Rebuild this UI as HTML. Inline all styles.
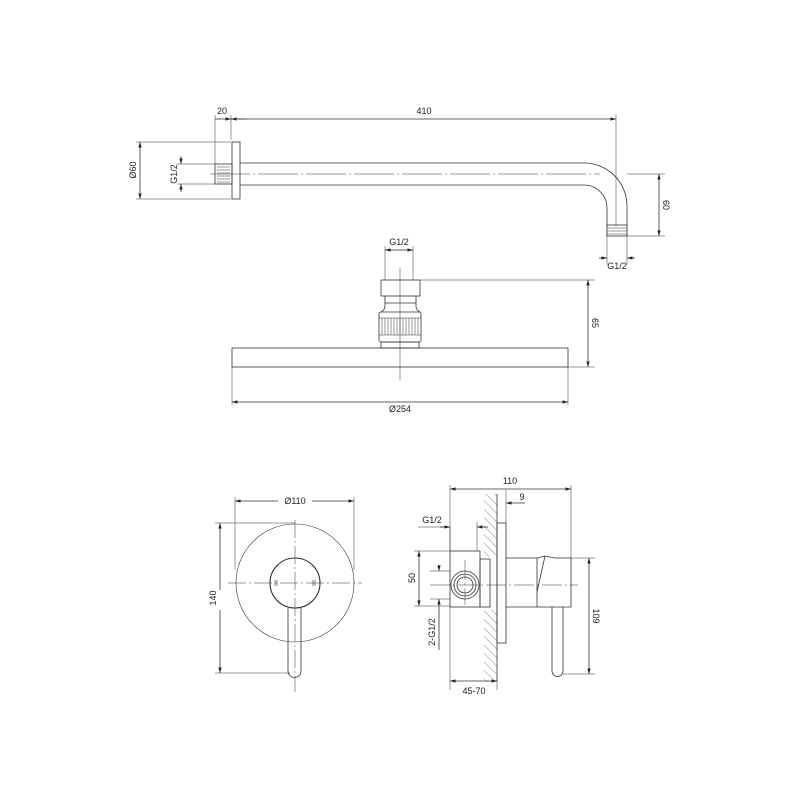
<!DOCTYPE html>
<html><head><meta charset="utf-8"><style>
html,body{margin:0;padding:0;background:#fff;}
svg{display:block;}
text{font-family:"Liberation Sans",sans-serif;font-size:9px;fill:#222;}
</style></head><body>
<svg width="800" height="800" viewBox="0 0 800 800" xmlns="http://www.w3.org/2000/svg">
<defs>
<marker id="a" viewBox="0 0 10 10" refX="10" refY="5" markerWidth="7" markerHeight="7" orient="auto-start-reverse"><path d="M0,2 L10,5 L0,8 z" fill="#222"/></marker>
<pattern id="h" width="6" height="6" patternUnits="userSpaceOnUse" patternTransform="rotate(-45)"><line x1="0" y1="0" x2="0" y2="6" stroke="#555" stroke-width="0.7"/></pattern>
</defs>
<g fill="none" stroke="#333" stroke-width="0.8">
<!-- TOP ARM -->
<rect x="232" y="142" width="8" height="57"/>
<rect x="215" y="164" width="17" height="20"/>
<path d="M217,167h13M217,170h13M217,173h13M217,176h13M217,179h13M217,182h13" stroke-width="0.5"/>
<path d="M240,163 H584 A43,43 0 0 1 627,206 V236"/>
<path d="M240,185 H584 A23,23 0 0 1 607,208 V236"/>
<rect x="607" y="225" width="20" height="11"/>
<path d="M608,228h18M608,231h18M608,234h18" stroke-width="0.5"/>
<path d="M210,174 H600" stroke-dasharray="40,3,2,3" stroke-width="0.5"/>
<!-- dims -->
<path d="M215,115 V164 M231,115 V140 M616,114 V226" stroke-width="0.5"/>
<line x1="215" y1="119" x2="231" y2="119" marker-end="url(#a)"/>
<line x1="247" y1="119" x2="231" y2="119" marker-end="url(#a)"/>
<line x1="231" y1="119" x2="616" y2="119" marker-end="url(#a)"/>
<path d="M136,142 H231 M136,199 H231 M177,164 H215 M177,184 H215" stroke-width="0.5"/>
<line x1="140" y1="170" x2="140" y2="142" marker-end="url(#a)"/>
<line x1="140" y1="170" x2="140" y2="199" marker-end="url(#a)"/>
<line x1="181" y1="156" x2="181" y2="164" marker-end="url(#a)"/>
<line x1="181" y1="192" x2="181" y2="184" marker-end="url(#a)"/>
<path d="M627,174 H665 M627,236 H665 M607,236 V265 M627,236 V265" stroke-width="0.5"/>
<line x1="659" y1="205" x2="659" y2="174" marker-end="url(#a)"/>
<line x1="659" y1="205" x2="659" y2="236" marker-end="url(#a)"/>
<line x1="599" y1="258" x2="607" y2="258" marker-end="url(#a)"/>
<line x1="635" y1="258" x2="627" y2="258" marker-end="url(#a)"/>

<!-- SHOWER HEAD -->
<path d="M385,246 V280 M413,246 V280" stroke-width="0.5"/>
<line x1="399" y1="250" x2="385" y2="250" marker-end="url(#a)"/>
<line x1="399" y1="250" x2="413" y2="250" marker-end="url(#a)"/>
<rect x="381" y="280" width="39" height="16"/>
<path d="M385,296 V306 Q385,310 381,312 M416,296 V306 Q416,310 420,312 M385,303 H416"/>
<rect x="379" y="312" width="42" height="30" rx="2"/>
<path d="M379,318 H421 M379,335 H421" stroke-width="0.6"/>
<path d="M382,318v17M385,318v17M388,318v17M391,318v17M394,318v17M397,318v17M400,318v17M403,318v17M406,318v17M409,318v17M412,318v17M415,318v17M418,318v17" stroke-width="0.5"/>
<rect x="381" y="342" width="38" height="6"/>
<rect x="232" y="348" width="336" height="19"/>
<path d="M400,268 V380" stroke-width="0.5"/>
<path d="M420,280 H595 M568,367 H595 M232,367 V405 M568,367 V405" stroke-width="0.5"/>
<line x1="588" y1="323" x2="588" y2="280" marker-end="url(#a)"/>
<line x1="588" y1="323" x2="588" y2="367" marker-end="url(#a)"/>
<line x1="400" y1="402" x2="232" y2="402" marker-end="url(#a)"/>
<line x1="400" y1="402" x2="568" y2="402" marker-end="url(#a)"/>

<!-- BOTTOM LEFT -->
<circle cx="295" cy="583" r="59" stroke-width="0.6"/>
<circle cx="295" cy="583" r="25" stroke-width="1.1"/>
<path d="M288,608 V671 A6.5,6.5 0 0 0 301,671 V608"/>
<path d="M228,583 H362 M295,520 V692" stroke-dasharray="18,3,2,3" stroke-width="0.5"/>
<path d="M275,580v6M277,580v6M313,580v6M315,580v6" stroke-width="0.6"/>
<path d="M235,497 V570 M354,497 V570 M215,523 H295 M215,673 H290" stroke-width="0.5"/>
<line x1="278" y1="501" x2="235" y2="501" marker-end="url(#a)"/>
<line x1="312" y1="501" x2="354" y2="501" marker-end="url(#a)"/>
<line x1="220" y1="590" x2="220" y2="523" marker-end="url(#a)"/>
<line x1="220" y1="610" x2="220" y2="673" marker-end="url(#a)"/>

<!-- BOTTOM RIGHT -->
<rect x="484" y="494" width="13" height="63" fill="url(#h)" stroke="none"/>
<rect x="484" y="610" width="13" height="72" fill="url(#h)" stroke="none"/>
<path d="M497,494 V682"/>
<rect x="497" y="523" width="9" height="120"/>
<rect x="450" y="551" width="30" height="56"/>
<rect x="480" y="559" width="10" height="48"/>
<circle cx="465" cy="585" r="14"/>
<circle cx="465" cy="585" r="11"/>
<circle cx="465" cy="585" r="8"/>
<path d="M506,558 H537 V607 H506 M537,558 L545,556 L555,558 H571 V607 H537 M545,556 L537,592"/>
<path d="M552,607 V671 A5.5,5.5 0 0 0 563,671 V607"/>
<path d="M430,585 H578 M465,560 V605" stroke-dasharray="20,3,2,3" stroke-width="0.5"/>
<path d="M450,485 V551 M571,485 V558 M506,490 V523 M450,607 V690 M497,682 V690" stroke-width="0.5"/>
<line x1="510" y1="489" x2="450" y2="489" marker-end="url(#a)"/>
<line x1="510" y1="489" x2="571" y2="489" marker-end="url(#a)"/>
<line x1="525" y1="503" x2="506" y2="503" marker-end="url(#a)"/>
<path d="M418,527 H450 M450,527 V551 M477,522 V551" stroke-width="0.5"/>
<line x1="440" y1="527" x2="450" y2="527" marker-end="url(#a)"/>
<line x1="488" y1="527" x2="477" y2="527" marker-end="url(#a)"/>
<path d="M414,551 H450 M414,606 H450 M430,571 H450 M430,599 H450" stroke-width="0.5"/>
<line x1="419" y1="578" x2="419" y2="551" marker-end="url(#a)"/>
<line x1="419" y1="578" x2="419" y2="606" marker-end="url(#a)"/>
<line x1="439" y1="565" x2="439" y2="571" marker-end="url(#a)"/>
<line x1="439" y1="650" x2="439" y2="599" marker-end="url(#a)"/>
<line x1="474" y1="681" x2="450" y2="681" marker-end="url(#a)"/>
<line x1="474" y1="681" x2="497" y2="681" marker-end="url(#a)"/>
<path d="M571,558 H595 M563,674 H595" stroke-width="0.5"/>
<line x1="589" y1="615" x2="589" y2="558" marker-end="url(#a)"/>
<line x1="589" y1="615" x2="589" y2="674" marker-end="url(#a)"/>
</g>
<!-- TEXT -->
<text x="222" y="114" text-anchor="middle">20</text>
<text x="424" y="114" text-anchor="middle">410</text>
<text transform="translate(136,170) rotate(-90)" text-anchor="middle">Ø60</text>
<text transform="translate(177,174) rotate(-90)" text-anchor="middle">G1/2</text>
<text transform="translate(663,205) rotate(90)" text-anchor="middle">60</text>
<text x="617" y="269" text-anchor="middle">G1/2</text>
<text x="399" y="245" text-anchor="middle">G1/2</text>
<text transform="translate(592,323) rotate(90)" text-anchor="middle">65</text>
<text x="400" y="412" text-anchor="middle">Ø254</text>
<text x="295" y="504" text-anchor="middle">Ø110</text>
<text transform="translate(216,598) rotate(-90)" text-anchor="middle">140</text>
<text x="510" y="484" text-anchor="middle">110</text>
<text x="522" y="500" text-anchor="middle">9</text>
<text x="432" y="523" text-anchor="middle">G1/2</text>
<text transform="translate(415,578) rotate(-90)" text-anchor="middle">50</text>
<text transform="translate(435,632) rotate(-90)" text-anchor="middle">2-G1/2</text>
<text x="474" y="694" text-anchor="middle">45-70</text>
<text transform="translate(593,616) rotate(90)" text-anchor="middle">109</text>
</svg>
</body></html>
